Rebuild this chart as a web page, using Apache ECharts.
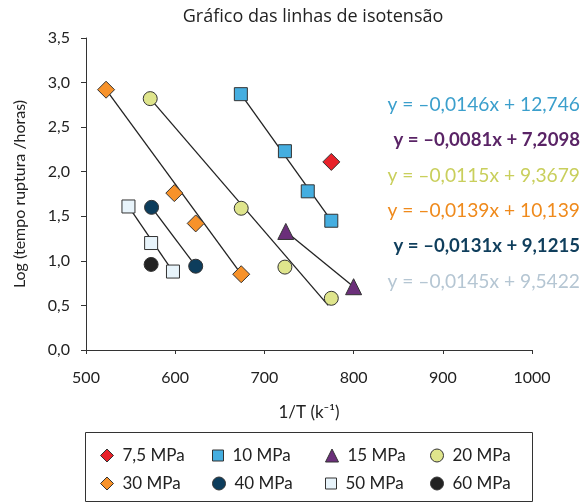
<!DOCTYPE html>
<html><head><meta charset="utf-8">
<script src="https://cdn.jsdelivr.net/npm/echarts@6/dist/echarts.min.js"></script>
<style>html,body{margin:0;padding:0;background:#fff}#c{width:583px;height:503px}</style>
</head><body><div id="c"></div>
<script>
const seriesNames = ['7,5 MPa','10 MPa','15 MPa','20 MPa','30 MPa','40 MPa','50 MPa','60 MPa'];
const s75 = [[775, 2.11]];
const s10 = [[673.6, 2.87], [723, 2.23], [748.6, 1.78], [775, 1.45]];
const s15 = [[724, 1.33], [800, 0.71]];
const s20 = [[572, 2.82], [674, 1.59], [723, 0.93], [775, 0.58]];
const s30 = [[522.5, 2.92], [599, 1.76], [623, 1.42], [674, 0.85]];
const s40 = [[573.5, 1.60], [623, 0.94]];
const s50 = [[547.6, 1.61], [573, 1.20], [597.5, 0.88]];
const s60 = [[573, 0.96]];
// trend line endpoints
const t10 = [[673.6, 2.87], [775, 1.45]];
const t15 = [[724, 1.33], [800, 0.71]];
const t20 = [[572, 2.82], [771.5, 0.50]];
const t30 = [[522.5, 2.92], [674, 0.85]];
const t40 = [[573.5, 1.60], [623, 0.94]];
const t50 = [[547.6, 1.61], [597.5, 0.88]];
const equations = ['y = \u20130,0146x + 12,746','y = \u20130,0081x + 7,2098','y = \u20130,0115x + 9,3679','y = \u20130,0139x + 10,139','y = \u20130,0131x + 9,1215','y = \u20130,0145x + 9,5422'];
const eqColors = ['#3b9fcc','#5a2466','#c9cf5c','#ef8a1c','#0f3e5c','#b5c6d3'];
const eqBold = [false,true,false,false,true,false];
const yTicks = ['0,0','0,5','1,0','1,5','2,0','2,5','3,0','3,5'];
const xTicks = ['500','600','700','800','900','1000'];

const FONT = 'Lato, "Open Sans", sans-serif';
const WFONT = '"Open Sans", Lato, sans-serif';
const styles = [
  {sym:'diamond', size:17, color:'#e8222a'},
  {sym:'rect', size:13, color:'#45aee0'},
  {sym:'triangle', size:16, color:'#6b2f7a'},
  {sym:'circle', size:14, color:'#dfe58c'},
  {sym:'diamond', size:17, color:'#f7922a'},
  {sym:'circle', size:14, color:'#0d3d5c'},
  {sym:'rect', size:13, color:'#e8f4fb'},
  {sym:'circle', size:14, color:'#222222'}
];
const datas = [s75,s10,s15,s20,s30,s40,s50,s60];
const trends = [t10,t15,t20,t30,t40,t50];

const series = [];
trends.forEach(t => series.push({type:'line', data:t, symbol:'none', silent:true,
  lineStyle:{color:'#222', width:1.3}, z:1}));
datas.forEach((d,i) => series.push({type:'scatter', name:seriesNames[i], data:d,
  symbol:styles[i].sym, symbolSize:styles[i].size, z:3,
  itemStyle:{color:styles[i].color, borderColor:'#333', borderWidth:1, opacity:1}}));

const legX = [100, 212, 325, 430];
const legY = [447, 475];
const legends = seriesNames.map((n,i) => ({
  data:[{name:n, icon:styles[i].sym}],
  left: legX[i%4], top: legY[Math.floor(i/4)],
  itemWidth: styles[i].sym==='rect' ? 11 : 13, itemHeight: styles[i].sym==='rect' ? 11 : 13, itemGap:6,
  textStyle:{fontFamily:FONT, fontSize:17, color:'#222', padding:[0,0,0,4]},
  itemStyle:{borderColor:'#333', borderWidth:1},
  selectedMode:false, padding:0
}));

const graphics = [{type:'rect', shape:{x:85.5, y:432.5, width:447, height:69},
  style:{fill:'none', stroke:'#333', lineWidth:1}}];
equations.forEach((e,i) => graphics.push({type:'text', right:3, top:95.5 + i*35.3,
  style:{text:e, fill:eqColors[i], font:(eqBold[i]?'bold 18.6px ':'19.2px ') + FONT}}));

const chart = echarts.init(document.getElementById('c'));
chart.setOption({
  animation:false,
  title:{text:'Gr\u00e1fico das linhas de isotens\u00e3o', left:308, top:3, textAlign:'center',
    textStyle:{fontFamily:WFONT, fontSize:18, fontWeight:'normal', color:'#222'}},
  grid:{left:86, right:51, top:38, bottom:153},
  xAxis:{type:'value', min:500, max:1000, interval:100,
    name:'1/T (k\u207b\u00b9)', nameLocation:'middle', nameGap:54,
    nameTextStyle:{fontFamily:FONT, fontSize:17, color:'#222'},
    axisLine:{show:true, lineStyle:{color:'#333', width:1}},
    axisTick:{show:true, length:4, lineStyle:{color:'#333'}},
    axisLabel:{fontFamily:FONT, fontSize:16, color:'#222', margin:20,
      formatter: v => xTicks[Math.round((v-500)/100)]},
    splitLine:{show:false}},
  yAxis:{type:'value', min:0, max:3.5, interval:0.5,
    name:'Log (tempo ruptura /horas)', nameLocation:'middle', nameGap:58,
    nameTextStyle:{fontFamily:FONT, fontSize:16, color:'#222'},
    axisLine:{show:true, lineStyle:{color:'#333', width:1}},
    axisTick:{show:true, length:5, lineStyle:{color:'#333'}},
    axisLabel:{fontFamily:FONT, fontSize:16, color:'#222', margin:16,
      formatter: v => yTicks[Math.round(v/0.5)]},
    splitLine:{show:false}},
  legend: legends,
  graphic: graphics,
  series: series
});
</script></body></html>
